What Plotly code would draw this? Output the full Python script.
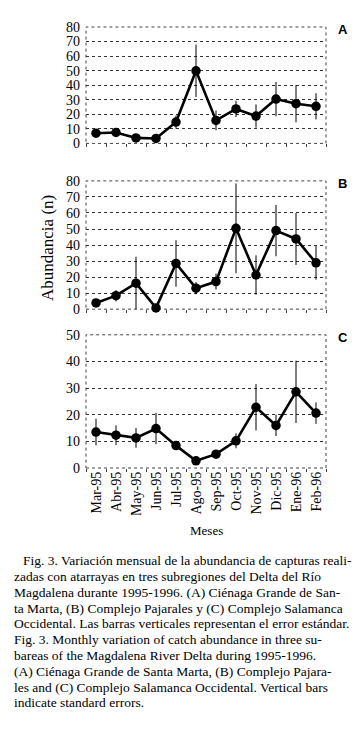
import plotly.graph_objects as go

months = ["Mar-95", "Abr-95", "May-95", "Jun-95", "Jul-95", "Ago-95",
          "Sep-95", "Oct-95", "Nov-95", "Dic-95", "Ene-96", "Feb-96"]

a_vals = [7.0, 7.5, 3.8, 3.4, 14.7, 49.9, 15.8, 23.7, 18.8, 30.5, 27.3, 25.5]
a_err = [1.5, 1.5, 1.0, 1.0, 4.5, 18.0, 6.8, 5.6, 8.0, 11.8, 12.8, 9.0]

b_vals = [3.9, 8.4, 16.2, 0.8, 28.5, 13.1, 17.2, 50.4, 21.3, 49.0, 43.8, 28.9]
b_err = [1.5, 3.5, 16.5, 0.8, 14.5, 3.8, 5.0, 28.0, 12.3, 16.0, 16.2, 10.5]

c_vals = [13.5, 12.3, 11.3, 14.8, 8.4, 2.7, 5.2, 10.2, 22.8, 16.0, 28.6, 20.6]
c_err = [5.0, 3.7, 3.7, 5.9, 1.0, 0.8, 1.2, 2.8, 8.7, 4.0, 11.7, 4.0]

panel_labels = ["A", "B", "C"]
y_ranges = [[0, 80], [0, 80], [0, 50]]

caption_lines = [
    "Fig. 3. Variación mensual de la abundancia de capturas reali-",
    "zadas con atarrayas en tres subregiones del Delta del Río",
    "Magdalena durante 1995-1996. (A) Ciénaga Grande de San-",
    "ta Marta, (B) Complejo Pajarales y (C) Complejo Salamanca",
    "Occidental. Las barras verticales representan el error estándar.",
    "Fig. 3. Monthly variation of catch abundance in three su-",
    "bareas of the Magdalena River Delta during 1995-1996.",
    "(A) Ciénaga Grande de Santa Marta, (B) Complejo Pajara-",
    "les and (C) Complejo Salamanca Occidental. Vertical bars",
    "indicate standard errors.",
]

W, H = 362, 733
ML, MR, MT, MB = 78, 44, 13, 273
PH = H - MT - MB  # plot height in px


def py_to_paper(py):
    return (H - MB - py) / PH


# panel pixel extents (top, bottom)
panels_px = [(13, 131), (169, 299), (325, 460)]
domains = [[py_to_paper(b), py_to_paper(t)] for t, b in panels_px]

serif = "Liberation Serif"
fig = go.Figure()

series = [(a_vals, a_err), (b_vals, b_err), (c_vals, c_err)]
for i, (vals, errs) in enumerate(series):
    suffix = "" if i == 0 else str(i + 1)
    fig.add_trace(go.Scatter(
        x=months, y=vals,
        xaxis="x" + suffix, yaxis="y" + suffix,
        mode="lines+markers",
        line=dict(color="black", width=2.6),
        marker=dict(color="black", size=9.5),
        error_y=dict(type="data", array=errs, visible=True,
                     color="black", thickness=1, width=0),
        cliponaxis=False,
        showlegend=False,
    ))

layout = dict(
    width=W, height=H,
    margin=dict(l=ML, r=MR, t=MT, b=MB),
    paper_bgcolor="white", plot_bgcolor="white",
    font=dict(family=serif, color="black", size=13),
    shapes=[], annotations=[],
)

for i in range(3):
    suffix = "" if i == 0 else str(i + 1)
    xa = "xaxis" + suffix
    ya = "yaxis" + suffix
    layout[xa] = dict(
        domain=[0, 1], anchor="y" + suffix,
        type="category", range=[-0.5, 11.5],
        showgrid=False, zeroline=False, showline=False,
        ticks="outside", ticklen=3, tickcolor="#444", tickson="boundaries",
        showticklabels=(i == 2), tickangle=-90,
        tickfont=dict(family=serif, size=14),
    )
    if i > 0:
        layout[xa]["matches"] = "x"
    layout[ya] = dict(
        domain=domains[i], anchor="x" + suffix,
        range=y_ranges[i], dtick=10,
        showgrid=True, gridcolor="#333", gridwidth=1, griddash="dot",
        zeroline=False, showline=False,
        ticks="", ticklabelstandoff=5,
        tickfont=dict(family=serif, size=14),
    )
    layout["shapes"].append(dict(
        type="rect", xref="x" + suffix + " domain", yref="y" + suffix + " domain",
        x0=0, x1=1, y0=0, y1=1,
        line=dict(color="#444", width=1, dash="dot"), layer="below",
    ))
    layout["annotations"].append(dict(
        text="<b>" + panel_labels[i] + "</b>",
        xref="paper", yref="paper",
        x=(328 - ML) / (W - ML - MR), y=py_to_paper(panels_px[i][0] + 3),
        xanchor="left", yanchor="middle", showarrow=False,
        font=dict(family="Liberation Sans", size=13),
    ))

layout["annotations"].append(dict(
    text="Abundancia (n)", textangle=-90,
    xref="paper", yref="paper",
    x=(40 - ML) / (W - ML - MR), y=py_to_paper(237),
    xanchor="center", yanchor="middle", showarrow=False,
    font=dict(family=serif, size=17),
))
layout["annotations"].append(dict(
    text="Meses",
    xref="paper", yref="paper",
    x=(198 - ML) / (W - ML - MR), y=py_to_paper(523),
    xanchor="center", yanchor="middle", showarrow=False,
    font=dict(family=serif, size=13),
))

for k, line in enumerate(caption_lines):
    x_px = 13 if k == 0 else 4
    layout["annotations"].append(dict(
        text=line,
        xref="paper", yref="paper",
        x=(x_px - ML) / (W - ML - MR), y=py_to_paper(554 + 16 * k),
        xanchor="left", yanchor="middle", showarrow=False,
        font=dict(family=serif, size=13.5),
    ))

fig.update_layout(**layout)
fig.write_html("out.html")
